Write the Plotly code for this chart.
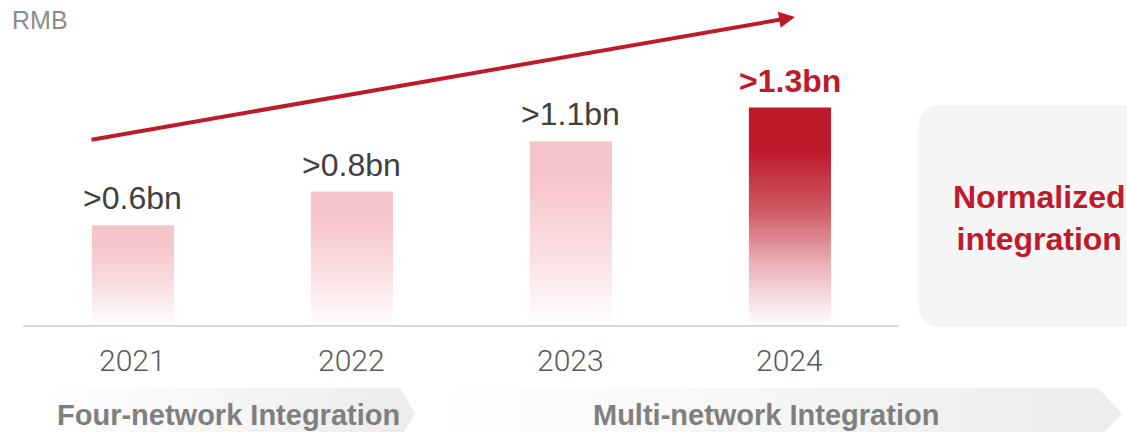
import plotly.graph_objects as go

# ---- data ----
years = ["2021", "2022", "2023", "2024"]
values = [0.6, 0.8, 1.1, 1.3]
value_labels = [">0.6bn", ">0.8bn", ">1.1bn", ">1.3bn"]
unit_label = "RMB"
phase_labels = ["Four-network Integration", "Multi-network Integration"]
target_label = "Normalized<br>integration"

# ---- styling ----
W, H = 1127, 432
RED = "#BE1A2A"
PINK = "#F6C5C9"
SANS = "Liberation Sans, Arial, sans-serif"
BAR_W = 0.375
X_RANGE = [-0.607, 4.539]
Y_RANGE = [-0.631, 1.940]


def fx(p):
    """Horizontal pixel offset -> x-axis value."""
    return X_RANGE[0] + p / W * (X_RANGE[1] - X_RANGE[0])


def fy(p):
    """Vertical pixel offset (from top) -> y-axis value."""
    return Y_RANGE[1] - p / H * (Y_RANGE[1] - Y_RANGE[0])


fig = go.Figure()

# background banners for the two phases (horizontal fade)
banner1 = [(0, 388), (400, 388), (415, 413.5), (400, 439), (0, 439), (0, 388)]
banner2 = [(423, 388), (1098, 388), (1122, 413.5), (1098, 439), (423, 439),
           (438, 413.5), (423, 388)]
for pts, g0, g1 in [(banner1, 40, 415), (banner2, 430, 1120)]:
    fig.add_trace(go.Scatter(
        x=[fx(p[0]) for p in pts], y=[fy(p[1]) for p in pts],
        mode="lines", fill="toself", line=dict(width=0, color="rgba(0,0,0,0)"),
        fillgradient=dict(type="horizontal", start=fx(g0), stop=fx(g1),
                          colorscale=[[0, "#FFFFFF"], [1, "#ECECEC"]]),
        hoverinfo="skip", showlegend=False))

# bars with a vertical fade towards the baseline
last = len(values) - 1
for i, v in enumerate(values):
    if i == last:
        scale = [[0, "#FFFFFF"], [0.35, "#EBB3B8"], [0.66, "#CE5A66"], [1, RED]]
    else:
        scale = [[0, "#FFFFFF"], [0.4, "#FBE4E6"], [1, PINK]]
    x0, x1 = i - BAR_W / 2, i + BAR_W / 2
    fig.add_trace(go.Scatter(
        x=[x0, x1, x1, x0, x0], y=[0, 0, v, v, 0],
        mode="lines", fill="toself", line=dict(width=0, color="rgba(0,0,0,0)"),
        fillgradient=dict(type="vertical", start=0, stop=v * 0.8, colorscale=scale),
        hoverinfo="skip", showlegend=False))

# rounded panel on the right
L, R, T, B, r = 918, 1160, 105, 327, 24
panel = (f"M {fx(L + r)},{fy(T)} L {fx(R)},{fy(T)} L {fx(R)},{fy(B)} "
         f"L {fx(L + r)},{fy(B)} Q {fx(L)},{fy(B)} {fx(L)},{fy(B - r)} "
         f"L {fx(L)},{fy(T + r)} Q {fx(L)},{fy(T)} {fx(L + r)},{fy(T)} Z")
shapes = [
    dict(type="path", path=panel, xref="x", yref="y",
         fillcolor="#F5F5F5", line=dict(width=0), layer="below"),
    dict(type="line", xref="x", yref="y", x0=fx(23), x1=fx(899), y0=0, y1=0,
         line=dict(color="#D9D9D9", width=2)),
]

annotations = []
# value labels above bars
for i, (v, lab) in enumerate(zip(values, value_labels)):
    hl = i == last
    annotations.append(dict(
        x=i, y=v, xref="x", yref="y", text=f"<b>{lab}</b>" if hl else lab,
        showarrow=False, yanchor="bottom", yshift=7,
        font=dict(family=SANS, size=32, color=RED if hl else "#404040")))
# year labels
for i, yr in enumerate(years):
    annotations.append(dict(
        x=i, y=fy(360), xref="x", yref="y", text=yr, showarrow=False,
        yanchor="middle",
        font=dict(family="Roboto, Liberation Sans, sans-serif", size=30,
                  weight=300, color="#595959")))
# phase banner captions
for cx, lab in zip([228, 766], phase_labels):
    annotations.append(dict(
        x=fx(cx), y=fy(415), xref="x", yref="y", text=f"<b>{lab}</b>",
        showarrow=False, yanchor="middle",
        font=dict(family=SANS, size=29, color="#7F7F7F")))
# panel text
annotations.append(dict(
    x=fx(1039), y=fy(218), xref="x", yref="y", text=f"<b>{target_label}</b>",
    showarrow=False, yanchor="middle",
    font=dict(family=SANS, size=32, color=RED)))
# unit
annotations.append(dict(
    x=fx(10), y=fy(20), xref="x", yref="y", text=unit_label, showarrow=False,
    xanchor="left", yanchor="middle",
    font=dict(family=SANS, size=25, color="#8C8C8C")))
# growth arrow
annotations.append(dict(
    x=fx(795), y=fy(17), ax=fx(90), ay=fy(140), xref="x", yref="y",
    axref="x", ayref="y", text="", showarrow=True, arrowhead=2,
    arrowsize=0.8, arrowwidth=4, arrowcolor=RED, standoff=0))

fig.update_layout(
    width=W, height=H, margin=dict(l=0, r=0, t=0, b=0),
    paper_bgcolor="white", plot_bgcolor="white",
    xaxis=dict(range=X_RANGE, visible=False, fixedrange=True),
    yaxis=dict(range=Y_RANGE, visible=False, fixedrange=True),
    shapes=shapes, annotations=annotations, showlegend=False)

fig.write_html("out.html")
